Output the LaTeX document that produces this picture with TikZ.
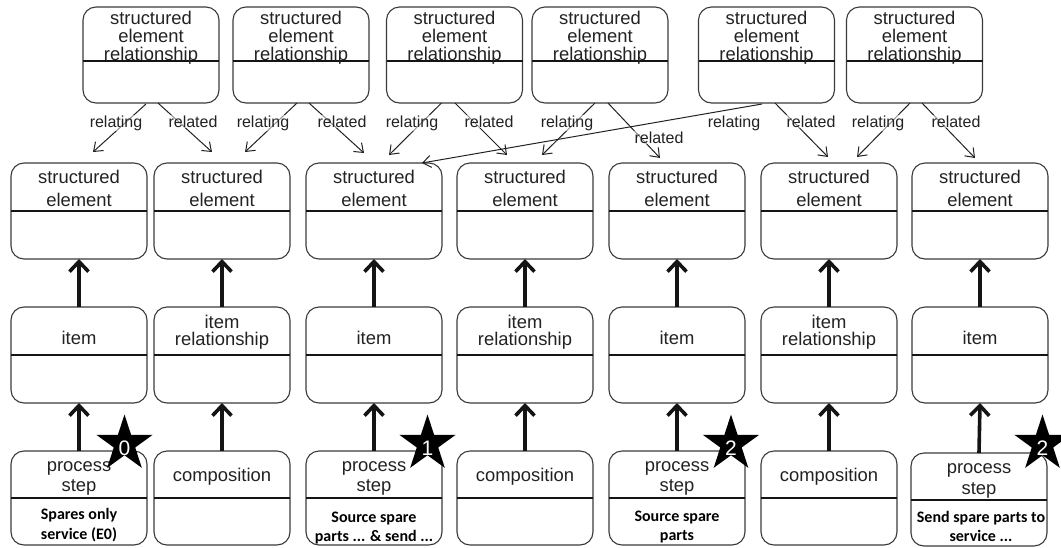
\documentclass[tikz,border=0pt]{standalone}
\usepackage{fontspec}
\setmainfont{Liberation Sans}
\newfontfamily\calfont{Carlito}
\usetikzlibrary{arrows.meta,shapes.geometric,calc}

\definecolor{boxgray}{HTML}{3A3A3A}
\definecolor{txtgray}{HTML}{222222}
\definecolor{linegray}{HTML}{222222}

\tikzset{
  ubox/.style={draw=boxgray, line width=1.1pt, rounded corners=13pt,
    minimum width=136pt, inner sep=0pt, outer sep=0pt},
  divline/.style={draw=black!92, line width=2pt},
  txt/.style={anchor=base, inner sep=0pt, text=txtgray,
    font=\fontsize{18.4}{18.4}\selectfont},
  note/.style={anchor=base, inner sep=0pt, text=black,
    font=\calfont\bfseries\fontsize{16}{16}\selectfont},
  role/.style={anchor=base, inner sep=0.5pt, text=txtgray,
    font=\fontsize{16}{16}\selectfont,
    fill=white, fill opacity=0.5, text opacity=1},
  assoc/.style={draw=linegray, line width=1pt,
    -{Straight Barb[length=8pt,width=12pt]}},
  supert/.style={draw=black!92, line width=3.6pt,
    -{Straight Barb[length=10pt,width=19pt]}},
  badge/.style={star, star points=5, star point ratio=2.618,
    minimum size=59pt, inner sep=0pt, fill=black},
  badgenum/.style={text=white, inner sep=0pt,
    font=\fontsize{21}{21}\selectfont},
}

\begin{document}
\begin{tikzpicture}[x=1pt,y=-1pt]
\useasboundingbox (0,0) rectangle (1061,547);

% structured element relationship boxes
\foreach \n/\x in {1/151,2/301,3/454.5,4/600,5/766.5,6/914.5} {
  \node[ubox, minimum height=96pt] (R\n) at (\x,55) {};
  \draw[divline] ([yshift=-54pt]R\n.north west) -- ([yshift=-54pt]R\n.north east);
  \node[txt] (Ra\n) at (\x,24) {structured};
  \node[txt] (Rb\n) at (\x,42) {element};
  \node[txt] (Rc\n) at (\x,60) {relationship};
}

% structured element boxes
\foreach \n/\x in {1/79,2/222,3/374,4/525,5/677,6/829,7/980} {
  \node[ubox, minimum height=96pt] (S\n) at (\x,211) {};
  \draw[divline] ([yshift=-48pt]S\n.north west) -- ([yshift=-48pt]S\n.north east);
  \node[txt] (Sa\n) at (\x,183) {structured};
  \node[txt] (Sb\n) at (\x,206) {element};
}

% item / item relationship boxes
\foreach \n/\x in {1/79,2/222,3/374,4/525,5/677,6/829,7/980} {
  \node[ubox, minimum height=96pt] (I\n) at (\x,355) {};
  \draw[divline] ([yshift=-48pt]I\n.north west) -- ([yshift=-48pt]I\n.north east);
  \draw[supert] (I\n.north) -- (S\n.south);
}
\foreach \n/\x in {1/79,3/374,5/677,7/980}
  \node[txt] (Ia\n) at (\x,344) {item};
\foreach \n/\x in {2/222,4/525,6/829} {
  \node[txt] (Ia\n) at (\x,328) {item};
  \node[txt] (Ib\n) at (\x,345) {relationship};
}

% process step / composition boxes
\foreach \n/\x/\y/\h in {1/79/498/94,2/222/498/94,3/374/498/94,4/525/498/94,
                         5/677/498/94,6/829/498/94,7/979/499.5/93} {
  \node[ubox, minimum height=\h pt] (P\n) at (\x,\y) {};
  \draw[divline] ([yshift=-47pt]P\n.north west) -- ([yshift=-47pt]P\n.north east);
  \draw[supert] (P\n.north) -- (I\n.south);
}
\foreach \n/\x in {2/222,4/525,6/829}
  \node[txt] (Pa\n) at (\x,481) {composition};
\foreach \n/\x/\ya/\yb in {1/79/471/491,3/374/471/491,5/677/471/491,7/979/473/494} {
  \node[txt] (Pa\n) at (\x,\ya) {process};
  \node[txt] (Pb\n) at (\x,\yb) {step};
}
\node[note] (Na1) at (79,519) {Spares only};
\node[note] (Nb1) at (79,539) {service (E0)};
\node[note] (Na3) at (374,522) {Source spare};
\node[note] (Nb3) at (374,541) {parts ... \& send ...};
\node[note] (Na5) at (677,521) {Source spare};
\node[note] (Nb5) at (677,540) {parts};
\node[note] (Na7) at (981,522) {Send spare parts to};
\node[note] (Nb7) at (981,541) {service ...};

% relating / related associations
\draw[assoc] ($(R1.south)+(-5,1)$) -- ($(S1.north)+(14,-11)$);
\draw[assoc] ($(R1.south)+(7,0)$)  -- ($(S2.north)+(-10,-11)$);
\draw[assoc] ($(R2.south)+(-4,0)$) -- ($(S2.north)+(23,-11)$);
\draw[assoc] ($(R2.south)+(8,0)$)  -- ($(S3.north)+(-10,-10)$);
\draw[assoc] ($(R3.south)+(-13,0)$) -- ($(S3.north)+(15,-8)$);
\draw[assoc] ($(R3.south)+(0.5,0)$) -- ($(S4.north)+(-18,-8)$);
\draw[assoc] ($(R4.south)+(-5,0)$) -- ($(S4.north)+(17,-8)$);
\draw[assoc] ($(R4.south)+(8,0)$)  -- ($(S5.north)+(-17,-5)$);
\draw[assoc] ($(R5.south)+(-4.5,1)$) -- ($(S3.north)+(48,0)$);
\draw[assoc] ($(R5.south)+(8.5,0)$) -- ($(S6.north)+(-1,-6)$);
\draw[assoc] ($(R6.south)+(-4.5,0)$) -- ($(S6.north)+(28,-6)$);
\draw[assoc] ($(R6.south)+(7.5,0)$) -- ($(S7.north)+(-5,-5)$);

\node[role] (La1) at (116,127) {relating};
\node[role] (Lb1) at (193,127) {related};
\node[role] (La2) at (263,127) {relating};
\node[role] (Lb2) at (342,127) {related};
\node[role] (La3) at (412,127) {relating};
\node[role] (Lb3) at (489,127) {related};
\node[role] (La4) at (567,127) {relating};
\node[role] (Lb4) at (659,143) {related};
\node[role] (La5) at (734,127) {relating};
\node[role] (Lb5) at (811,127) {related};
\node[role] (La6) at (878,127) {relating};
\node[role] (Lb6) at (956,127) {related};

% numbered stars
\foreach \n/\x/\d in {0/124.5/0,1/427.5/1,2/731/2,3/1042.5/2} {
  \node[badge] (St\n) at (\x,444) {};
  \node[badgenum] (Sn\n) at (\x,448) {\d};
}
\end{tikzpicture}
\end{document}
